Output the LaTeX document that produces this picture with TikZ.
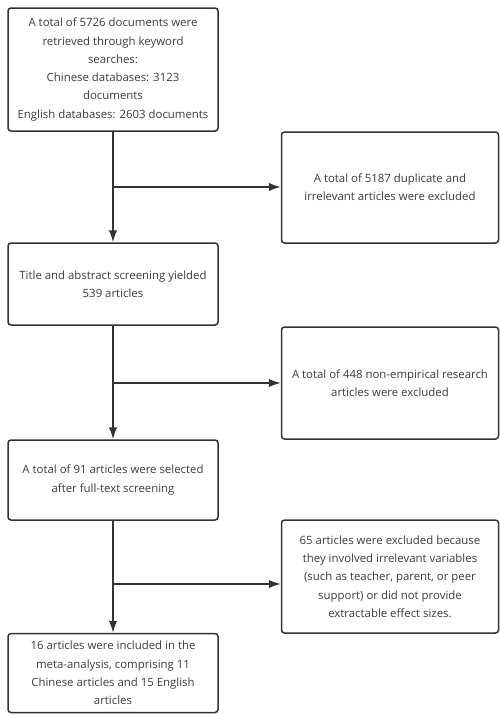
\documentclass[tikz,border=0pt]{standalone}
\usepackage{fontspec}
\setmainfont{Open Sans}
\usetikzlibrary{arrows.meta}
\definecolor{edge}{HTML}{333333}
\definecolor{txt}{HTML}{3C3C3C}
\begin{document}
\begin{tikzpicture}[x=1pt,y=-1pt,>={Latex[length=12pt,width=8.5pt]},stage/.style={draw=edge,line width=1.5pt,rounded corners=3pt,minimum width=210pt,align=center,text=txt,font=\fontsize{11.4}{18.3}\selectfont,inner sep=0pt},drop/.style={stage,minimum width=217pt},link/.style={draw=edge,line width=1.5pt}]
  \useasboundingbox (0,0) rectangle (500,715);
  \node[stage,minimum height=123pt] (found) at (113,69.5) {A total of 5726 documents were\\retrieved through keyword\\searches:\\Chinese databases: 3123\\documents\\English databases: 2603 documents};
  \node[stage,minimum height=82pt] (screen) at (113,284) {Title and abstract screening yielded\\539 articles};
  \node[stage,minimum height=80pt] (fulltext) at (113,480) {A total of 91 articles were selected\\after full-text screening};
  \node[stage,minimum height=79pt] (included) at (113,673) {16 articles were included in the\\meta-analysis, comprising 11\\Chinese articles and 15 English\\articles};
  \node[drop,minimum height=111pt] (dup) at (390,187.5) {A total of 5187 duplicate and\\irrelevant articles were excluded};
  \node[drop,minimum height=112pt] (nonemp) at (390,383) {A total of 448 non-empirical research\\articles were excluded};
  \node[drop,minimum height=113pt] (irrel) at (390,576.5) {65 articles were excluded because\\they involved irrelevant variables\\(such as teacher, parent, or peer\\support) or did not provide\\extractable effect sizes.};
  \coordinate (fork1) at (113,187);
  \coordinate (fork2) at (113,383);
  \coordinate (fork3) at (113,584);
  \draw[link,->] (found) -- (screen);
  \draw[link,->] (screen) -- (fulltext);
  \draw[link,->] (fulltext) -- (included);
  \draw[link,->] (fork1) -- (fork1 -| dup.west);
  \draw[link,->] (fork2) -- (fork2 -| nonemp.west);
  \draw[link,->] (fork3) -- (fork3 -| irrel.west);
\end{tikzpicture}
\end{document}
